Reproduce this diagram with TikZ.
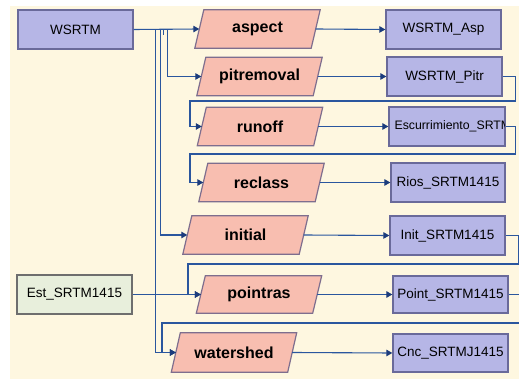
\documentclass[tikz,border=0pt]{standalone}
\usepackage{fontspec}
\setmainfont{Liberation Sans}
\usetikzlibrary{arrows.meta,calc,backgrounds}
\definecolor{bg}{HTML}{FEF7E0}
\definecolor{bluefill}{HTML}{B6B6E6}
\definecolor{blueline}{HTML}{6A6A9A}
\definecolor{pinkfill}{HTML}{F8BEB0}
\definecolor{pinkline}{HTML}{7E6E8E}
\definecolor{greenfill}{HTML}{E8EFDC}
\definecolor{greenline}{HTML}{6E6E6E}
\definecolor{conn}{HTML}{2A569E}
\definecolor{tipc}{HTML}{1C3C7C}
\tikzset{
  data/.style={draw=blueline, fill=bluefill, line width=1.3pt, minimum width=115pt,
    minimum height=39pt, inner sep=0pt, font=\fontsize{13.5}{15}\selectfont},
  input/.style={data, fill=greenfill, draw=greenline},
  tool/.style={minimum width=116pt, minimum height=38pt, inner sep=0pt,
    font=\fontsize{16}{18}\selectfont\bfseries},
  toolshape/.style={draw=pinkline, fill=pinkfill, line width=1.2pt},
  link/.style={draw=conn, line width=1.1pt},
  arr/.style={link, -{Triangle[length=6pt,width=6.5pt,color=tipc]}}
}
\newcommand\paral[1]{\path[toolshape] ($(#1.north west)+(4.5,0)$) -- ($(#1.north east)+(4.5,0)$)
  -- ($(#1.south east)+(-4.5,0)$) -- ($(#1.south west)+(-4.5,0)$) -- cycle;}
\begin{document}
\begin{tikzpicture}[x=1pt,y=-1pt]
\useasboundingbox (0,0) rectangle (519,379);

% data nodes
\node[data] (WSRTM) at (75.5,29.5) {WSRTM};
\node[input] (Est) at (74.5,294.5) {Est\_SRTM1415};
\node[data] (Asp) at (443.5,29.5) {WSRTM\_Asp};
\node[data] (Pitr) at (444.5,76.5) {WSRTM\_Pitr};
\node[data, minimum width=116pt] (Escurr) at (447,126.5) {};
\node[data, minimum width=114pt] (Rios) at (448,182.5) {Rios\_SRTM1415};
\node[data] (Init) at (447.5,235.5) {Init\_SRTM1415};
\node[data, minimum height=37pt] (Point) at (450.5,294.5) {Point\_SRTM1415};
\node[data, minimum height=38pt] (Cnc) at (450.5,353) {Cnc\_SRTMJ1415};
\begin{scope}
  \clip ($(Escurr.south west)+(1,-1)$) rectangle ($(Escurr.north east)+(-1.6,1)$);
  \node[anchor=west, inner sep=0pt, font=\fontsize{12.3}{13}\selectfont] (esctext)
    at ($(Escurr.west)+(6,0)$) {Escurrimiento\_SRTM};
\end{scope}

% tool nodes
\node[tool] (aspect) at (257.5,29) {aspect};
\node[tool] (pitremoval) at (259.5,76.5) {pitremoval};
\node[tool] (runoff) at (260,126.5) {runoff};
\node[tool] (reclass) at (261.5,182.5) {reclass};
\node[tool] (initial) at (245.5,235) {initial};
\node[tool, minimum height=37pt] (pointras) at (259,294.5) {pointras};
\node[tool, minimum height=39pt] (watershed) at (234,352.5) {watershed};
\begin{scope}[on background layer]
  \fill[bg] (10,6) rectangle (519,379);
  \paral{aspect}\paral{pitremoval}\paral{runoff}\paral{reclass}
  \paral{initial}\paral{pointras}\paral{watershed}
\end{scope}

% connectors from WSRTM
\draw[arr] (WSRTM.east) -- (aspect.west);
\draw[arr] ($(WSRTM.east)+(34,0)$) |- (pitremoval.west);
\draw[link] ($(WSRTM.east)+(30,0)$) -- ++(0,6);
\draw[arr] ($(WSRTM.east)+(26.5,0)$) |- (initial.west);
\draw[arr] ($(WSRTM.east)+(21.5,0)$) |- (watershed.west);

% tools to outputs
\draw[arr] (aspect.east) -- (Asp.west);
\draw[arr] (pitremoval.east) -- (Pitr.west);
\draw[arr] (runoff.east) -- (Escurr.west);
\draw[arr] (reclass.east) -- (Rios.west);
\draw[arr] (initial.east) -- (Init.west);
\draw[arr] (pointras.east) -- (Point.west);
\draw[arr] (watershed.east) -- (Cnc.west);

% loops
\draw[arr] (Pitr.east) -- ++(12.5,0) |- (190,101) |- (runoff.west);
\draw[arr] (Escurr.east) -- ++(10,0) |- (190,154) |- (reclass.west);
\draw[arr] (Init.east) -- ++(13,0) |- (188,264) |- (pointras.west);
\draw[arr] (Point.east) -- ++(10.5,0) |- (162,323) |- (watershed.west);
\draw[arr] (Est.east) -- (pointras.west);
\end{tikzpicture}
\end{document}
